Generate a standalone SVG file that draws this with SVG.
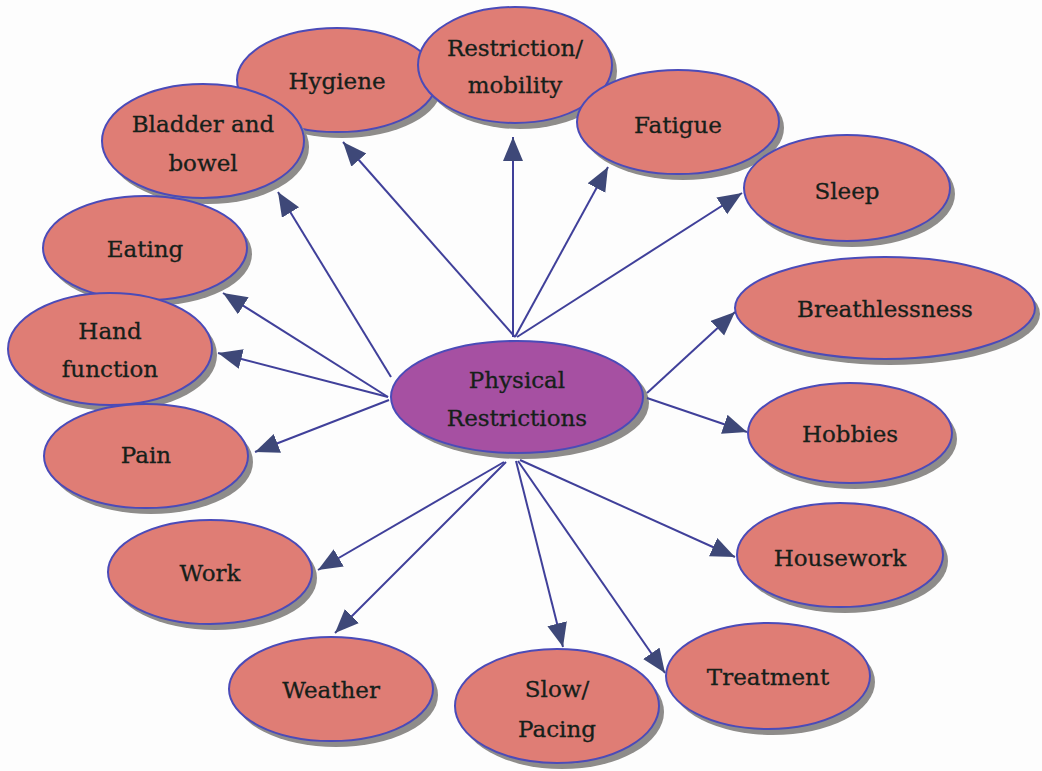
<svg xmlns="http://www.w3.org/2000/svg" width="1042" height="771" viewBox="0 0 1042 771">
  <style>
    .shadow { fill: #8e8c8a; }
    .node { fill: #df7d75; stroke: #4b4bb8; stroke-width: 2; }
    .hub { fill: #a650a2; stroke: #4b4bb8; stroke-width: 2; }
    .label { font-family: "DejaVu Serif", "Liberation Serif", serif; font-size: 23px; fill: #16201a; stroke: #16201a; stroke-width: 0.3; text-anchor: middle; }
    .edge { stroke: #40409a; stroke-width: 2; fill: none; marker-end: url(#head); }
  </style>
  <defs>
    <marker id="head" markerUnits="userSpaceOnUse" markerWidth="26" markerHeight="22" refX="24" refY="10" orient="auto">
      <path d="M0,0 L24,10 L0,20 Z" fill="#3e4878"/>
    </marker>
  </defs>

  <rect width="1042" height="771" fill="#fdfdfd"/>

  <!-- outer topics -->
  <g id="node-hygiene">
    <ellipse class="shadow" cx="342" cy="86" rx="100" ry="52"/>
    <ellipse class="node" cx="337" cy="80" rx="100" ry="52"/>
    <text class="label" x="337" y="89">Hygiene</text>
  </g>
  <g id="node-restriction">
    <ellipse class="shadow" cx="520" cy="71" rx="97" ry="58"/>
    <ellipse class="node" cx="515" cy="65" rx="97" ry="58"/>
    <text class="label" x="515" y="56">Restriction/</text>
    <text class="label" x="515" y="93">mobility</text>
  </g>
  <g id="node-bladder">
    <ellipse class="shadow" cx="208" cy="147" rx="101" ry="57"/>
    <ellipse class="node" cx="203" cy="141" rx="101" ry="57"/>
    <text class="label" x="203" y="132">Bladder and</text>
    <text class="label" x="203" y="171">bowel</text>
  </g>
  <g id="node-fatigue">
    <ellipse class="shadow" cx="683" cy="128" rx="101" ry="52"/>
    <ellipse class="node" cx="678" cy="122" rx="101" ry="52"/>
    <text class="label" x="678" y="133">Fatigue</text>
  </g>
  <g id="node-sleep">
    <ellipse class="shadow" cx="852" cy="194" rx="103" ry="53"/>
    <ellipse class="node" cx="847" cy="188" rx="103" ry="53"/>
    <text class="label" x="847" y="199">Sleep</text>
  </g>
  <g id="node-eating">
    <ellipse class="shadow" cx="150" cy="254" rx="102" ry="52"/>
    <ellipse class="node" cx="145" cy="248" rx="102" ry="52"/>
    <text class="label" x="145" y="257">Eating</text>
  </g>
  <g id="node-hand">
    <ellipse class="shadow" cx="115" cy="355" rx="102" ry="56"/>
    <ellipse class="node" cx="110" cy="349" rx="102" ry="56"/>
    <text class="label" x="110" y="339">Hand</text>
    <text class="label" x="110" y="377">function</text>
  </g>
  <g id="node-pain">
    <ellipse class="shadow" cx="151" cy="462" rx="102" ry="52"/>
    <ellipse class="node" cx="146" cy="456" rx="102" ry="52"/>
    <text class="label" x="146" y="463">Pain</text>
  </g>
  <g id="node-breathlessness">
    <ellipse class="shadow" cx="890" cy="314" rx="150" ry="51"/>
    <ellipse class="node" cx="885" cy="308" rx="150" ry="51"/>
    <text class="label" x="885" y="317">Breathlessness</text>
  </g>
  <g id="node-hobbies">
    <ellipse class="shadow" cx="855" cy="439" rx="102" ry="50"/>
    <ellipse class="node" cx="850" cy="433" rx="102" ry="50"/>
    <text class="label" x="850" y="442">Hobbies</text>
  </g>
  <g id="node-work">
    <ellipse class="shadow" cx="215" cy="578" rx="102" ry="52"/>
    <ellipse class="node" cx="210" cy="572" rx="102" ry="52"/>
    <text class="label" x="210" y="581">Work</text>
  </g>
  <g id="node-housework">
    <ellipse class="shadow" cx="845" cy="561" rx="103" ry="52"/>
    <ellipse class="node" cx="840" cy="555" rx="103" ry="52"/>
    <text class="label" x="840" y="566">Housework</text>
  </g>
  <g id="node-weather">
    <ellipse class="shadow" cx="336" cy="695" rx="102" ry="52"/>
    <ellipse class="node" cx="331" cy="689" rx="102" ry="52"/>
    <text class="label" x="331" y="698">Weather</text>
  </g>
  <g id="node-treatment">
    <ellipse class="shadow" cx="773" cy="682" rx="102" ry="53"/>
    <ellipse class="node" cx="768" cy="676" rx="102" ry="53"/>
    <text class="label" x="768" y="685">Treatment</text>
  </g>
  <g id="node-slow">
    <ellipse class="shadow" cx="562" cy="712" rx="102" ry="57"/>
    <ellipse class="node" cx="557" cy="706" rx="102" ry="57"/>
    <text class="label" x="557" y="697">Slow/</text>
    <text class="label" x="557" y="737">Pacing</text>
  </g>

  <!-- central topic -->
  <g id="node-physical">
    <ellipse class="shadow" cx="523" cy="403" rx="126" ry="56"/>
    <ellipse class="hub" cx="517" cy="397" rx="126" ry="56"/>
    <text class="label" x="517" y="388">Physical</text>
    <text class="label" x="517" y="426">Restrictions</text>
  </g>

  <!-- connectors from the central topic -->
  <g id="connectors">
    <line class="edge" x1="515" y1="337" x2="343" y2="142"/>
    <line class="edge" x1="513" y1="337" x2="513" y2="137"/>
    <line class="edge" x1="515" y1="337" x2="608" y2="167"/>
    <line class="edge" x1="517" y1="337" x2="742" y2="193"/>
    <line class="edge" x1="391" y1="377" x2="278" y2="192"/>
    <line class="edge" x1="388" y1="397" x2="223" y2="293"/>
    <line class="edge" x1="388" y1="397" x2="218" y2="353"/>
    <line class="edge" x1="389" y1="400" x2="255" y2="452"/>
    <line class="edge" x1="647" y1="393" x2="735" y2="312"/>
    <line class="edge" x1="647" y1="398" x2="747" y2="432"/>
    <line class="edge" x1="504" y1="462" x2="318" y2="570"/>
    <line class="edge" x1="506" y1="462" x2="335" y2="633"/>
    <line class="edge" x1="516" y1="461" x2="563" y2="647"/>
    <line class="edge" x1="518" y1="461" x2="665" y2="673"/>
    <line class="edge" x1="520" y1="460" x2="735" y2="557"/>
  </g>
</svg>
